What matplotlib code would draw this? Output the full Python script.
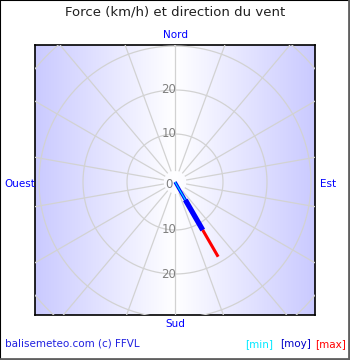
import matplotlib
matplotlib.use('Agg')
import matplotlib.pyplot as plt
import matplotlib.transforms as mtransforms
import numpy as np
from matplotlib.lines import Line2D
from matplotlib.patches import Rectangle

# vent (km/h), direction en degres depuis le nord (sens horaire)
direction = 150
vent_min = 3.8
vent_moy = 11.7
vent_max = 18.7

cercles = [10, 20, 30, 40, 50]
etiquettes_r = [0, 10, 20]
rayons = list(range(0, 360, 20))
cardinaux = ['Nord', 'Est', 'Sud', 'Ouest']
legende = ['[min]', '[moy]', '[max]']
legende_couleurs = ['#00e8ff', '#0000c8', '#ff0000']

W, H = 350, 360
fig = plt.figure(figsize=(W / 100, H / 100), dpi=100)
fig.patch.set_facecolor('white')

# cadre avec degrade horizontal
bx0, by0, bx1, by1 = 35, 45, 315, 315
box = fig.add_axes([bx0 / W, 1 - by1 / H, (bx1 - bx0) / W, (by1 - by0) / H])
g = np.abs(np.linspace(-1, 1, 281))[None, :, None]
edge = np.array([202, 202, 255]) / 255
img = (1 - g) * np.ones(3) + g * edge
box.imshow(img, aspect='auto', extent=[0, 1, 0, 1], interpolation='bilinear')
box.set_xlim(0, 1)
box.set_ylim(0, 1)
box.set_xticks([])
box.set_yticks([])
for s in box.spines.values():
    s.set_color('black')
    s.set_linewidth(1.2)

# axes polaires, centre et echelle en pixels
cx, cy = 175, 182
k, r0 = 4.4, 4.0
rmax = 45
R = r0 + k * rmax
ax = fig.add_axes([(cx - R) / W, 1 - (cy + R) / H, 2 * R / W, 2 * R / H],
                  projection='polar')
ax.set_theta_zero_location('N')
ax.set_theta_direction(-1)
ax.set_ylim(-r0 / k, rmax)
ax.axis('off')

grid_kw = dict(color='#d2d2d2', lw=0.9, zorder=1)
theta = np.linspace(0, 2 * np.pi, 721)
lines = []
for r in cercles:
    lines += ax.plot(theta, np.full_like(theta, r), **grid_kw)
for a in rayons:
    t = np.deg2rad(a)
    lines += ax.plot([t, t], [1.8, rmax + 10], **grid_kw)
for ln in lines:
    ln.set_clip_path(box.patch)

off = mtransforms.offset_copy(ax.transData, fig=fig, x=1, y=0, units='points')
for v in etiquettes_r[1:]:
    for side in (0, np.pi):
        ax.text(side, v, str(v), ha='right', va='center',
                fontsize=8.5, color='#808080', transform=off, zorder=3)
ax.text(0, -r0 / k, '0', ha='right', va='center', fontsize=8.5, color='#808080',
        transform=mtransforms.offset_copy(ax.transData, fig=fig, x=-2, y=-1.5,
                                          units='points'), zorder=3)

# vent
t = np.deg2rad(direction)
c0 = -r0 / k
ax.plot([t, t], [c0, vent_moy], color='#0000ff', lw=2.4, solid_capstyle='butt', zorder=4)
ax.plot([t, t], [vent_min, vent_moy], color='#0000ff', lw=3.8, solid_capstyle='butt', zorder=4)
ax.plot([t, t], [c0, vent_min], color='#00e8ff', lw=0.8, solid_capstyle='butt', zorder=5)
ax.plot([t, t], [vent_moy, vent_max], color='#ff0000', lw=2.2, solid_capstyle='butt', zorder=4)

# textes
fig.text(175 / W, 1 - 12 / H, 'Force (km/h) et direction du vent',
         ha='center', va='center', fontsize=9.5, color='#202020')
pos = [(176, 35, 'center'), (320, 184, 'left'), (175, 324, 'center'), (4, 184, 'left')]
for (x, y, ha), lab in zip(pos, cardinaux):
    fig.text(x / W, 1 - y / H, lab, ha=ha, va='center', fontsize=7.5, color='#0000ff')

fig.text(5 / W, 1 - 344 / H, 'balisemeteo.com (c) FFVL', ha='left', va='center',
         fontsize=7.5, color='#2020e0')
for x, lab, col in zip([273, 311, 346], legende, legende_couleurs):
    fig.text(x / W, 1 - 344 / H, lab, ha='right', va='center', fontsize=7.5, color=col)

# bordure exterieure
fig.add_artist(Rectangle((0, 0), 1, 1, transform=fig.transFigure, fill=False,
                         edgecolor='black', lw=1.5))
fig.add_artist(Line2D([1 - 1.5 / W] * 2, [0, 1], transform=fig.transFigure,
                      color='#606060', lw=2))
fig.add_artist(Line2D([0, 1], [1.5 / H] * 2, transform=fig.transFigure,
                      color='#606060', lw=2))

fig.savefig('out.png', dpi=100)
